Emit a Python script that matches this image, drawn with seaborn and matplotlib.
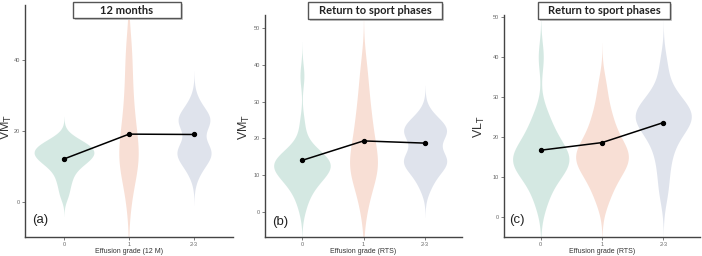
import pandas as pd
import matplotlib.pyplot as plt
from matplotlib.patches import Rectangle
import seaborn as sns

# category labels
grades = ["0", "1", "2-3"]

# (a) VM_T, 12 months - sample values per effusion grade
a_g0 = [2, 5, 7, 9, 10, 11, 12, 12, 13, 13, 14, 14, 15, 15, 16, 16, 17, 18]
a_g1 = [0, 5, 8, 10, 11, 12, 13, 14, 16, 18, 20, 22, 25, 28, 32, 36, 41, 45]
a_g23 = [8, 11, 12, 13, 14, 15, 15, 16, 21, 22, 23, 23, 24, 25, 28]
a_means = [12.1, 19.1, 19.0]

# (b) VM_T, return to sport
b_g0 = [1, 4, 6, 7, 8, 9, 10, 10, 11, 11, 12, 12, 13, 13, 13, 14, 14, 14, 15, 15, 16, 17, 19, 24, 37]
b_g1 = [1, 5, 8, 10, 11, 12, 13, 14, 15, 17, 19, 21, 23, 25, 28, 31, 35, 40]
b_g23 = [7, 10, 12, 13, 14, 14, 15, 16, 20, 21, 22, 22, 23, 24, 26]
b_means = [14.0, 19.3, 18.7]

# (c) VL_T, return to sport
c_g0 = [3, 6, 8, 10, 11, 12, 13, 13, 14, 14, 15, 15, 16, 17, 18, 19, 20, 22, 24, 26, 40]
c_g1 = [4, 7, 9, 11, 12, 13, 14, 15, 15, 16, 17, 18, 19, 21, 23, 25, 28, 33]
c_g23 = [6, 11, 15, 18, 20, 22, 23, 24, 25, 25, 26, 26, 27, 28, 30, 32, 38]
c_means = [16.7, 18.6, 23.6]


def long_df(g0, g1, g23):
    return pd.DataFrame({
        "grade": ["0"] * len(g0) + ["1"] * len(g1) + ["2-3"] * len(g23),
        "value": g0 + g1 + g23,
    })


sns.set_style("ticks")
plt.rcParams["font.family"] = ["Liberation Sans", "DejaVu Sans"]
pal = sns.color_palette("Set2", 3)

fig = plt.figure(figsize=(7.02, 2.56), dpi=100)
W, H = 702, 256

panels = [
    # data, means, axes px (left, bottom, right, top), ylim, yticks, ylabel, ylabel pos,
    # xlabel, title, title box px (left, top, right, bottom), tag, tag pos
    (long_df(a_g0, a_g1, a_g23), a_means, (25, 237, 233, 5), (-9.9, 55.5), [0, 20, 40],
     "VM$_\\mathrm{T}$", (-0.055, 0.474), "Effusion grade (12 M)", "12 months",
     (73, 2, 181, 18), "(a)", (0.034, 0.073)),
    (long_df(b_g0, b_g1, b_g23), b_means, (265, 237, 462, 15), (-6.8, 53.5), range(0, 51, 10),
     "VM$_\\mathrm{T}$", (-0.066, 0.495), "Effusion grade (RTS)", "Return to sport phases",
     (308, 2, 442, 19), "(b)", (0.036, 0.068)),
    (long_df(c_g0, c_g1, c_g23), c_means, (504, 237, 700, 15), (-5, 50.5), range(0, 51, 10),
     "VL$_\\mathrm{T}$", (-0.087, 0.498), "Effusion grade (RTS)", "Return to sport phases",
     (538, 2, 670, 19), "(c)", (0.026, 0.076)),
]

for (df, means, (l, b, r, t), ylim, yticks, ylab, ylpos, xlab, title,
     (bl, bt, br, bb), tag, tagpos) in panels:
    ax = fig.add_axes([l / W, (H - b) / H, (r - l) / W, (b - t) / H])
    sns.violinplot(data=df, x="grade", y="value", hue="grade", order=grades,
                   palette=pal, inner=None, linewidth=0, width=0.92, cut=3,
                   bw_adjust=0.85, common_norm=True, alpha=0.3, legend=False, ax=ax)
    mdf = pd.DataFrame({"grade": grades, "mean": means})
    sns.pointplot(data=mdf, x="grade", y="mean", order=grades, color="black",
                  markersize=3, linewidth=1.1, errorbar=None, ax=ax)
    ax.set_xlim(-0.6, 2.6)
    ax.set_ylim(*ylim)
    ax.set_yticks(list(yticks))
    ax.tick_params(labelsize=4, colors="#666666", length=2, width=0.6, pad=1.5)
    for s in ["left", "bottom"]:
        ax.spines[s].set_color("#444444")
        ax.spines[s].set_linewidth(1.0)
    sns.despine(ax=ax)
    ax.set_ylabel(ylab, fontsize=9, color="#333333")
    ax.yaxis.set_label_coords(*ylpos)
    ax.set_xlabel(xlab, fontsize=5, color="#333333", labelpad=1)
    ax.text(tagpos[0], tagpos[1], tag, transform=ax.transAxes, fontsize=9.5,
            color="#222222", va="center", ha="left")
    # title box with a soft shadow
    fig.patches.append(Rectangle(((bl + 2) / W, (H - bb - 2) / H), (br - bl) / W, (bb - bt) / H,
                                 transform=fig.transFigure, fc="#cccccc", ec="none", zorder=5))
    fig.patches.append(Rectangle((bl / W, (H - bb) / H), (br - bl) / W, (bb - bt) / H,
                                 transform=fig.transFigure, fc="white", ec="#555555", lw=1.0,
                                 zorder=6))
    fig.text((bl + br) / 2 / W, 1 - (bt + bb) / 2 / H, title, ha="center", va="center",
             fontsize=8, fontweight="bold", family=["Lato", "DejaVu Sans"],
             color="#222222", zorder=7)

fig.savefig("out.png", dpi=100)
